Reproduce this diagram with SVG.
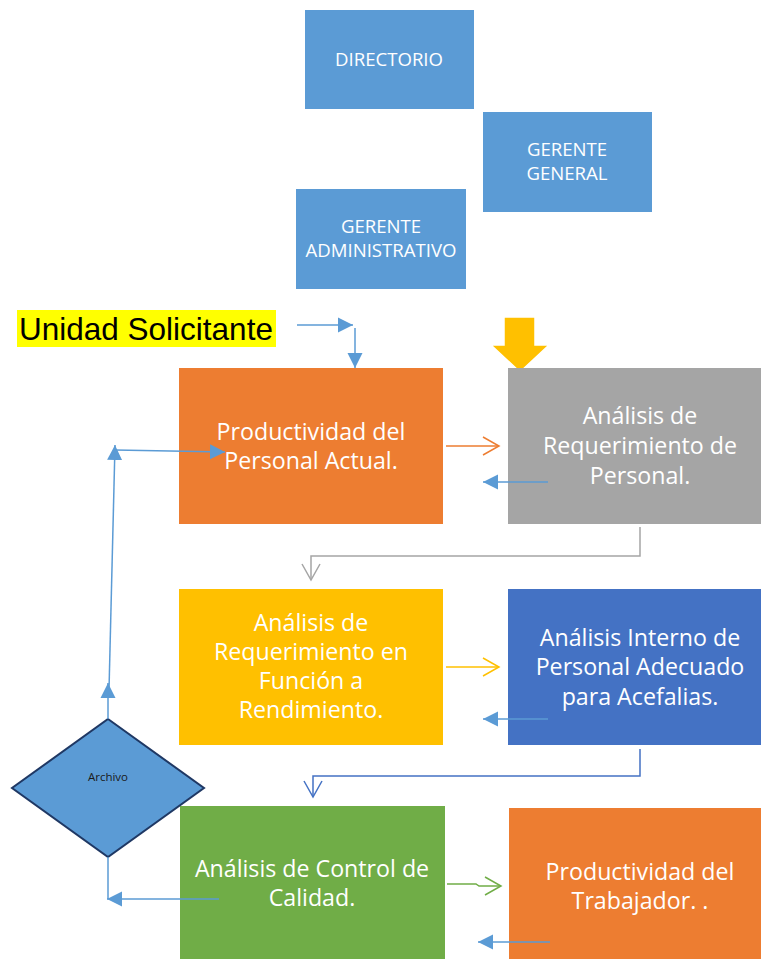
<svg xmlns="http://www.w3.org/2000/svg" width="761" height="959" viewBox="0 0 761 959">
<style>
.box{stroke:none}
.t{font-family:"Open Sans","Noto Sans",sans-serif;fill:#ffffff;text-anchor:middle}
.top{font-size:18.6px}
.big{font-size:23.2px}
.ln{fill:none;stroke-width:1.5}
</style>
<defs>
<marker id="fb" markerUnits="userSpaceOnUse" markerWidth="16" markerHeight="16" refX="15" refY="8" orient="auto"><path d="M0,0.5 L15,8 L0,15.5 z" fill="#5B9BD5"/></marker>
<marker id="co" markerUnits="userSpaceOnUse" markerWidth="19" markerHeight="21" refX="17" refY="10" orient="auto"><path d="M1,1 L17,10 L1,19" fill="none" stroke="#ED7D31" stroke-width="1.5"/></marker>
<marker id="cy" markerUnits="userSpaceOnUse" markerWidth="19" markerHeight="21" refX="17" refY="10" orient="auto"><path d="M1,1 L17,10 L1,19" fill="none" stroke="#FFC000" stroke-width="1.5"/></marker>
<marker id="cg" markerUnits="userSpaceOnUse" markerWidth="19" markerHeight="21" refX="17" refY="10" orient="auto"><path d="M1,1 L17,10 L1,19" fill="none" stroke="#70AD47" stroke-width="1.5"/></marker>
<marker id="cgr" markerUnits="userSpaceOnUse" markerWidth="19" markerHeight="21" refX="17" refY="10" orient="auto"><path d="M1,1 L17,10 L1,19" fill="none" stroke="#A5A5A5" stroke-width="1.5"/></marker>
<marker id="cb" markerUnits="userSpaceOnUse" markerWidth="19" markerHeight="21" refX="17" refY="10" orient="auto"><path d="M1,1 L17,10 L1,19" fill="none" stroke="#4472C4" stroke-width="1.5"/></marker>
</defs>
<rect width="761" height="959" fill="#ffffff"/>

<g id="directorio"><rect class="box" x="305" y="10" width="169" height="99" fill="#5B9BD5"/><text class="t top" x="389" y="66">DIRECTORIO</text></g>
<g id="gerente-general"><rect class="box" x="483" y="112" width="169" height="100" fill="#5B9BD5"/><text class="t top" x="567" y="156">GERENTE</text><text class="t top" x="567" y="180">GENERAL</text></g>
<g id="gerente-administrativo"><rect class="box" x="296" y="189" width="170" height="100" fill="#5B9BD5"/><text class="t top" x="381" y="233">GERENTE</text><text class="t top" x="381" y="257">ADMINISTRATIVO</text></g>

<g id="unidad-solicitante"><rect x="17" y="310" width="259" height="37" fill="#FFFF00"/><text x="19" y="340" font-family="'Liberation Sans',Arial,sans-serif" font-size="31.5" fill="#000000">Unidad Solicitante</text></g>

<g id="flecha-amarilla"><path d="M504,317 H535 V345 H549 L520,372 L491,345 H504 Z" fill="#FFC000" stroke="#ffffff" stroke-width="1.5"/></g>

<g id="productividad-personal"><rect class="box" x="179" y="368" width="264" height="156" fill="#ED7D31"/><text class="t big" x="311" y="440">Productividad del</text><text class="t big" x="311" y="469">Personal Actual.</text></g>
<g id="analisis-requerimiento-personal"><rect class="box" x="508" y="368" width="253" height="156" fill="#A5A5A5"/><text class="t big" x="640" y="424">Análisis de</text><text class="t big" x="640" y="454">Requerimiento de</text><text class="t big" x="640" y="484">Personal.</text></g>
<g id="analisis-requerimiento-funcion"><rect class="box" x="179" y="589" width="264" height="156" fill="#FFC000"/><text class="t big" x="311" y="631">Análisis de</text><text class="t big" x="311" y="660">Requerimiento en</text><text class="t big" x="311" y="689">Función a</text><text class="t big" x="311" y="718">Rendimiento.</text></g>
<g id="analisis-interno"><rect class="box" x="508" y="589" width="253" height="156" fill="#4472C4"/><text class="t big" x="640" y="646">Análisis Interno de</text><text class="t big" x="640" y="675">Personal Adecuado</text><text class="t big" x="640" y="705">para Acefalias.</text></g>
<g id="control-calidad"><rect class="box" x="180" y="806" width="265" height="153" fill="#70AD47"/><text class="t big" x="312" y="877">Análisis de Control de</text><text class="t big" x="312" y="906">Calidad.</text></g>
<g id="productividad-trabajador"><rect class="box" x="509" y="808" width="252" height="151" fill="#ED7D31"/><text class="t big" x="640" y="880">Productividad del</text><text class="t big" x="640" y="909">Trabajador. .</text></g>

<g id="archivo"><path d="M108,719 L204,788 L108,857 L12,788 Z" fill="#5B9BD5" stroke="#1F3864" stroke-width="2"/><text x="108" y="781" font-family="'Open Sans','Noto Sans',sans-serif" font-size="11.5" fill="#1a1a1a" text-anchor="middle">Archivo</text></g>

<g id="connectors">
<path class="ln" d="M297,325 H353" stroke="#5B9BD5" marker-end="url(#fb)"/>
<path class="ln" d="M355,328 V368" stroke="#5B9BD5" marker-end="url(#fb)"/>
<path class="ln" d="M446,446 H499" stroke="#ED7D31" marker-end="url(#co)"/>
<path class="ln" d="M548,482 H483" stroke="#5B9BD5" marker-end="url(#fb)"/>
<path class="ln" d="M640,527 V556 H311 V580" stroke="#A5A5A5" marker-end="url(#cgr)"/>
<path class="ln" d="M446,667 H499" stroke="#FFC000" marker-end="url(#cy)"/>
<path class="ln" d="M548,719 H483" stroke="#5B9BD5" marker-end="url(#fb)"/>
<path class="ln" d="M640,749 V776 H313 V797" stroke="#4472C4" marker-end="url(#cb)"/>
<path class="ln" d="M447,884 H476 L479,886 H501" stroke="#70AD47" marker-end="url(#cg)"/>
<path class="ln" d="M550,942 H478" stroke="#5B9BD5" marker-end="url(#fb)"/>
<path class="ln" d="M108,857 V899" stroke="#5B9BD5"/>
<path class="ln" d="M219,899 H107" stroke="#5B9BD5" marker-end="url(#fb)"/>
<path class="ln" d="M108,719 V683" stroke="#5B9BD5" marker-end="url(#fb)"/>
<path class="ln" d="M109,690 L115,445" stroke="#5B9BD5" marker-end="url(#fb)"/>
<path class="ln" d="M115,450 L225,452" stroke="#5B9BD5" marker-end="url(#fb)"/>
</g>
</svg>
